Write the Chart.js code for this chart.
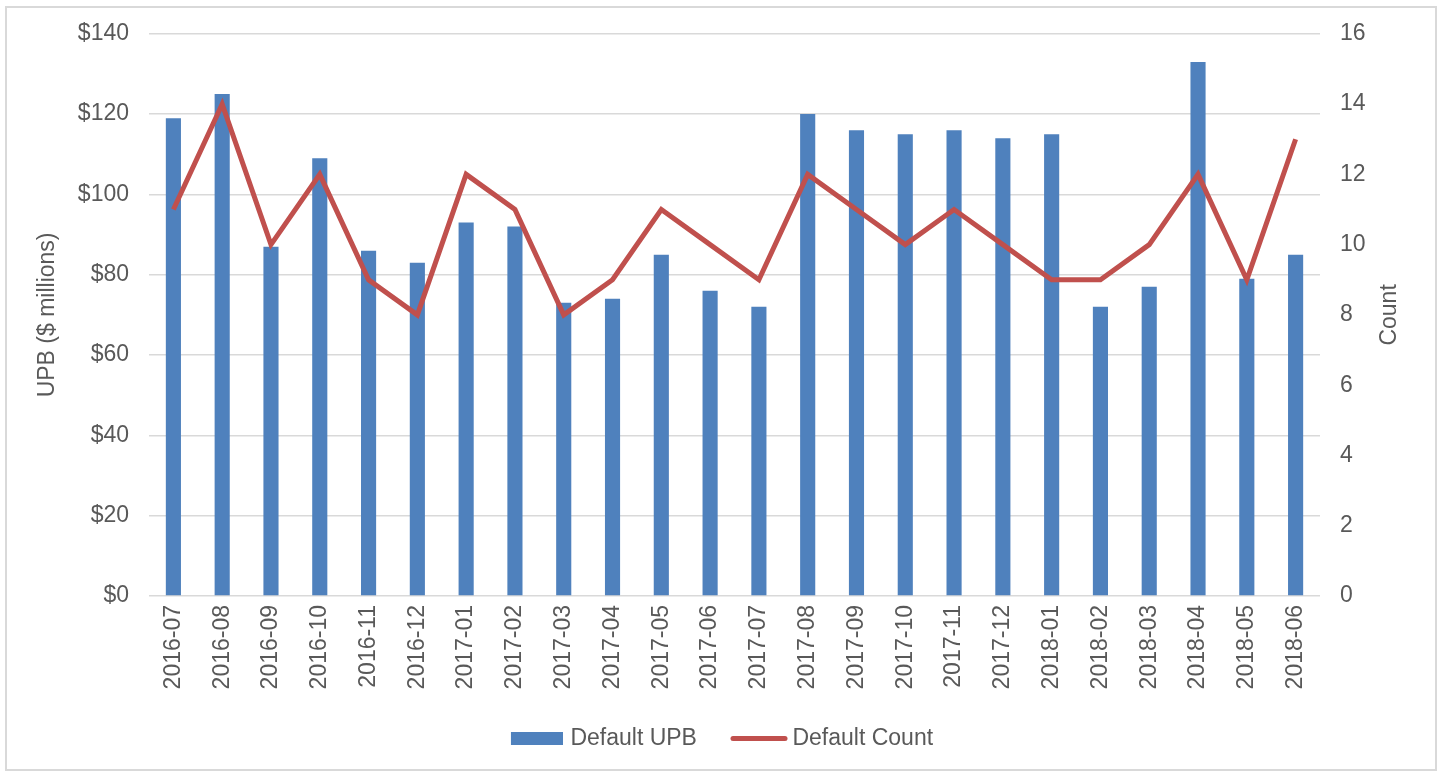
<!DOCTYPE html>
<html>
<head>
<meta charset="utf-8">
<script src="https://cdn.jsdelivr.net/npm/chart.js@4/dist/chart.umd.min.js"></script>
<style>
  body { margin: 0; background: #fff; }
  #frame { position: absolute; left: 5px; top: 6px; width: 1428px; height: 761px; border: 2px solid #d9d9d9; }
  #chart { position: absolute; left: 0; top: 0; }
</style>
</head>
<body>
<div id="frame"></div>
<canvas id="chart" width="1441" height="773"></canvas>
<script>
const months = ['2016-07', '2016-08', '2016-09', '2016-10', '2016-11', '2016-12',
  '2017-01', '2017-02', '2017-03', '2017-04', '2017-05', '2017-06', '2017-07',
  '2017-08', '2017-09', '2017-10', '2017-11', '2017-12', '2018-01', '2018-02',
  '2018-03', '2018-04', '2018-05', '2018-06'];
const defaultUpb = [119, 125, 87, 109, 86, 83, 93, 92, 73, 74, 85, 76, 72,
  120, 116, 115, 116, 114, 115, 72, 77, 133, 79, 85];
const defaultCount = [11, 14, 10, 12, 9, 8, 12, 11, 8, 9, 11, 10, 9,
  12, 11, 10, 11, 10, 9, 9, 10, 12, 9, 13];

const textColor = '#595959';
const blue = '#4f81bd';
const red = '#c0504d';
const font = { family: 'Liberation Sans, Arial, sans-serif', size: 23 };

// legend swatches, drawn like the Excel ones (transparent margin nudges them)
function swatch(w, h, draw) {
  const c = document.createElement('canvas');
  c.width = w;
  c.height = h;
  draw(c.getContext('2d'));
  return c;
}
const barSwatch = swatch(59, 13, (ctx) => {
  ctx.fillStyle = blue;
  ctx.fillRect(7, 0, 52, 13);
});
const lineSwatch = swatch(65, 7, (ctx) => {
  ctx.strokeStyle = red;
  ctx.lineWidth = 5;
  ctx.lineCap = 'round';
  ctx.beginPath();
  ctx.moveTo(10, 3.5);
  ctx.lineTo(62, 3.5);
  ctx.stroke();
});

// right axis title reads bottom to top, as on the left
const countTitle = {
  id: 'countTitle',
  afterDraw(chart) {
    const { ctx, chartArea } = chart;
    ctx.save();
    ctx.translate(chartArea.right + 70, (chartArea.top + chartArea.bottom) / 2);
    ctx.rotate(-Math.PI / 2);
    ctx.fillStyle = textColor;
    ctx.font = font.size + 'px ' + font.family;
    ctx.textAlign = 'center';
    ctx.textBaseline = 'middle';
    ctx.fillText('Count', 0, 0);
    ctx.restore();
  },
};

new Chart(document.getElementById('chart'), {
  type: 'bar',
  data: {
    labels: months,
    datasets: [
      {
        label: 'Default UPB',
        data: defaultUpb,
        backgroundColor: blue,
        yAxisID: 'y',
        order: 2,
        barPercentage: 0.31,
        categoryPercentage: 1,
        pointStyle: barSwatch,
      },
      {
        type: 'line',
        label: 'Default Count',
        data: defaultCount,
        borderColor: red,
        backgroundColor: red,
        borderWidth: 5,
        pointRadius: 0,
        tension: 0,
        yAxisID: 'y1',
        order: 1,
        pointStyle: lineSwatch,
      },
    ],
  },
  options: {
    responsive: false,
    animation: false,
    layout: { padding: { top: 32, bottom: 13 } },
    scales: {
      x: {
        grid: { display: false, drawTicks: false },
        border: { display: false },
        ticks: { color: textColor, font: font, minRotation: 90, maxRotation: 90, padding: 9 },
        afterFit: (scale) => { scale.height = 98; },
      },
      y: {
        position: 'left',
        min: 0,
        max: 140,
        ticks: { stepSize: 20, color: textColor, font: font, padding: 20, callback: (v) => '$' + v },
        grid: { color: '#d9d9d9', lineWidth: 1.5, drawTicks: false },
        border: { display: false },
        title: { display: true, text: 'UPB ($ millions)', color: textColor, font: font, padding: { top: 34, bottom: 4 } },
        afterFit: (scale) => { scale.width = 149; },
      },
      y1: {
        position: 'right',
        min: 0,
        max: 16,
        ticks: { stepSize: 2, color: textColor, font: font, padding: 20 },
        grid: { display: false, drawTicks: false },
        border: { display: false },
        afterFit: (scale) => { scale.width = 121; },
      },
    },
    plugins: {
      legend: {
        position: 'bottom',
        labels: {
          color: textColor,
          font: font,
          usePointStyle: true,
          pointStyleWidth: 51,
          boxHeight: 13,
          padding: 33,
          sort: (a, b) => a.datasetIndex - b.datasetIndex,
        },
      },
      tooltip: { enabled: false },
    },
  },
  plugins: [countTitle],
});
</script>
</body>
</html>
